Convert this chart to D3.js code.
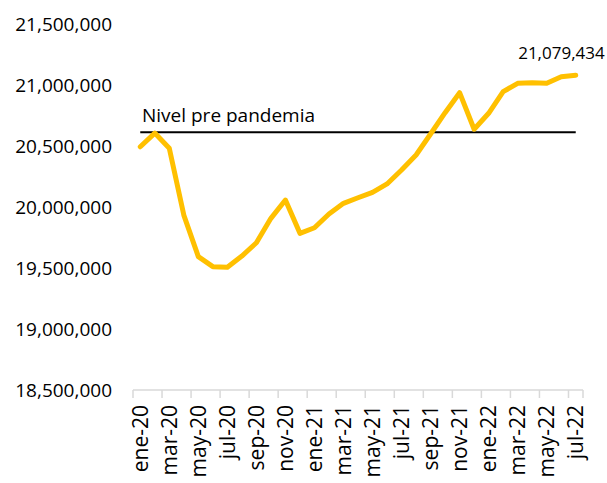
<!DOCTYPE html>
<html>
<head>
<meta charset="utf-8">
<script src="https://cdn.jsdelivr.net/npm/d3@7"></script>
<style>
  body { margin: 0; background: #fff; }
  text { font-family: "Open Sans", "Noto Sans", sans-serif; fill: #000; }
  .serie { fill: none; stroke: #FFC000; stroke-width: 5px; stroke-linejoin: round; stroke-linecap: round; }
  .pre { stroke: #000; stroke-width: 2px; }
</style>
</head>
<body>
<script>
var months = ["ene-20","feb-20","mar-20","abr-20","may-20","jun-20","jul-20","ago-20","sep-20","oct-20","nov-20","dic-20",
              "ene-21","feb-21","mar-21","abr-21","may-21","jun-21","jul-21","ago-21","sep-21","oct-21","nov-21","dic-21",
              "ene-22","feb-22","mar-22","abr-22","may-22","jun-22","jul-22"];
var values = [20494000, 20606000, 20481000, 19934000, 19593000, 19511000, 19506000, 19598000, 19707000, 19907000, 20057000, 19784000,
              19830000, 19943000, 20030000, 20076000, 20120000, 20189000, 20303000, 20426000, 20598000, 20773000, 20937000, 20637000,
              20768000, 20945000, 21014000, 21019000, 21014000, 21068000, 21079434];
var preLevel = 20613000;
var preLabel = "Nivel pre pandemia";
var yTicks = [18500000, 19000000, 19500000, 20000000, 20500000, 21000000, 21500000];

var W = 607, H = 483;
var mLeft = 133, mRight = 583, mTop = 24, mBottom = 390;

var svg = d3.select("body").append("svg")
  .attr("width", W).attr("height", H);

var x = d3.scaleBand().domain(months).range([mLeft, mRight]);
var y = d3.scaleLinear().domain([18500000, 21500000]).range([mBottom, mTop]);
var fmt = d3.format(",");

// y labels, no axis line
svg.append("g").selectAll("text")
  .data(yTicks).enter().append("text")
  .attr("x", 112).attr("y", function(d) { return y(d); })
  .attr("dy", "0.35em")
  .attr("text-anchor", "end")
  .style("font-size", "19px")
  .text(function(d) { return fmt(d); });

// x axis
var xa = svg.append("g");
xa.append("line")
  .attr("x1", mLeft).attr("x2", mRight)
  .attr("y1", mBottom).attr("y2", mBottom)
  .attr("stroke", "#d9d9d9").attr("stroke-width", 1.5);
var tickIdx = d3.range(0, months.length, 2);
xa.selectAll(".tk").data(tickIdx).enter().append("line")
  .attr("class", "tk")
  .attr("x1", function(i) { return x(months[i]); })
  .attr("x2", function(i) { return x(months[i]); })
  .attr("y1", mBottom).attr("y2", mBottom + 8)
  .attr("stroke", "#d9d9d9").attr("stroke-width", 1.5);
xa.append("line")
  .attr("x1", mRight).attr("x2", mRight)
  .attr("y1", mBottom).attr("y2", mBottom + 8)
  .attr("stroke", "#d9d9d9").attr("stroke-width", 1.5);
xa.selectAll(".lb").data(tickIdx).enter().append("text")
  .attr("class", "lb")
  .attr("text-anchor", "end")
  .attr("dy", "0.35em")
  .style("font-size", "21px")
  .attr("transform", function(i) {
    return "translate(" + (x(months[i]) + x.bandwidth() / 2) + "," + (mBottom + 15) + ") rotate(-90)";
  })
  .text(function(i) { return months[i]; });

// pre pandemic level
svg.append("line").attr("class", "pre")
  .attr("x1", x(months[0]) + x.bandwidth() / 2)
  .attr("x2", x(months[months.length - 1]) + x.bandwidth() / 2)
  .attr("y1", y(preLevel)).attr("y2", y(preLevel));
svg.append("text")
  .attr("x", 142).attr("y", y(preLevel) - 10)
  .style("font-size", "19px")
  .text(preLabel);

// series
var line = d3.line()
  .x(function(d, i) { return x(months[i]) + x.bandwidth() / 2; })
  .y(function(d) { return y(d); });
svg.append("path").datum(values).attr("class", "serie").attr("d", line);

// last value label
var last = values.length - 1;
svg.append("text")
  .attr("x", x(months[last]) + x.bandwidth() / 2 + 29)
  .attr("y", y(values[last]) - 16)
  .attr("text-anchor", "end")
  .style("font-size", "17px")
  .text(fmt(values[last]));
</script>
</body>
</html>
